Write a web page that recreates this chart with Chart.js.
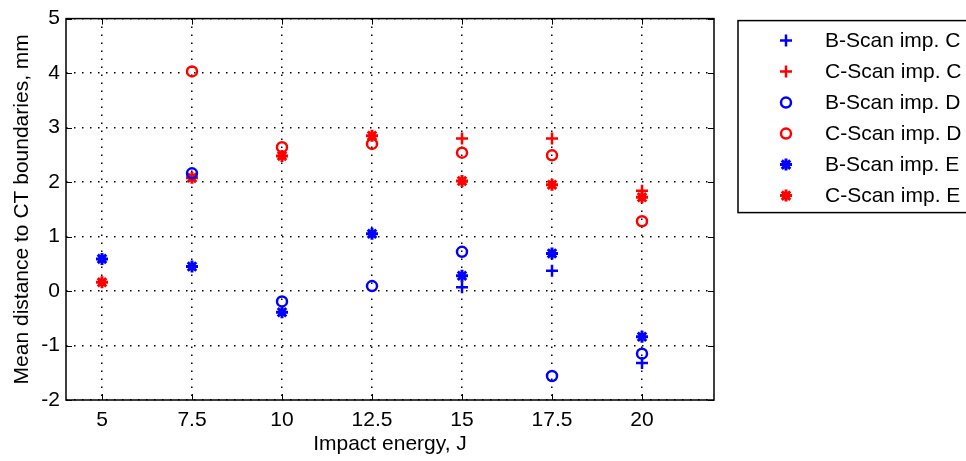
<!DOCTYPE html>
<html>
<head>
<meta charset="utf-8">
<title>Mean distance to CT boundaries</title>
<script src="https://cdn.jsdelivr.net/npm/chart.js@4"></script>
<style>
  html, body { margin: 0; padding: 0; background: #fff; }
  #wrap { width: 966px; height: 461px; }
</style>
</head>
<body>
<div id="wrap"><canvas id="chart" width="966" height="461"></canvas></div>
<script>
// impact energies (J) and tick values
const energies = [5, 7.5, 10, 12.5, 15, 17.5, 20];
const xTicks = [5, 7.5, 10, 12.5, 15, 17.5, 20];
const yTicks = [-2, -1, 0, 1, 2, 3, 4, 5];

// mean distance to CT boundaries, mm (null = not measured)
const bScanC = [null, null, null, null, 0.07, 0.37, -1.32];
const cScanC = [null, null, null, null, 2.80, 2.80, 1.84];
const bScanD = [null, 2.16, -0.19, 0.09, 0.72, -1.56, -1.15];
const cScanD = [null, 4.03, 2.64, 2.70, 2.54, 2.49, 1.28];
const bScanE = [0.59, 0.45, -0.39, 1.05, 0.28, 0.69, -0.84];
const cScanE = [0.16, 2.08, 2.48, 2.85, 2.02, 1.95, 1.72];

const BLUE = '#0000ff';
const RED = '#ff0000';
const FONT = '"Liberation Sans", Arial, sans-serif';

function pts(vals) {
  return energies.map((x, i) => ({ x: x, y: vals[i] })).filter(p => p.y !== null);
}

function series(label, vals, color, style, radius, width) {
  return {
    label: label,
    data: pts(vals),
    showLine: false,
    pointStyle: style,
    pointRadius: radius,
    pointHoverRadius: radius,
    pointBorderWidth: width,
    pointBorderColor: color,
    pointBackgroundColor: style === 'circle' ? 'rgba(0,0,0,0)' : color,
    borderColor: color,
    backgroundColor: color
  };
}

const datasets = [
  series('B-Scan imp. C', bScanC, BLUE, 'cross', 6, 2.5),
  series('C-Scan imp. C', cScanC, RED, 'cross', 6, 2.5),
  series('B-Scan imp. D', bScanD, BLUE, 'circle', 5, 2.5),
  series('C-Scan imp. D', cScanD, RED, 'circle', 5, 2.5),
  series('B-Scan imp. E', bScanE, BLUE, 'star', 6, 3),
  series('C-Scan imp. E', cScanE, RED, 'star', 6, 3)
];

// box round the axes plus inward tick marks on all four sides
const axesBox = {
  id: 'axesBox',
  afterDatasetsDraw(chart) {
    const { ctx, chartArea: a, scales } = chart;
    ctx.save();
    ctx.strokeStyle = '#000';
    ctx.lineWidth = 1;
    ctx.beginPath();
    xTicks.forEach(v => {
      const px = Math.round(scales.x.getPixelForValue(v)) + 0.5;
      ctx.moveTo(px, a.bottom); ctx.lineTo(px, a.bottom - 6);
      ctx.moveTo(px, a.top); ctx.lineTo(px, a.top + 6);
    });
    yTicks.forEach(v => {
      const py = Math.round(scales.y.getPixelForValue(v)) + 0.5;
      ctx.moveTo(a.left, py); ctx.lineTo(a.left + 6, py);
      ctx.moveTo(a.right, py); ctx.lineTo(a.right - 6, py);
    });
    ctx.stroke();
    ctx.lineWidth = 1.5;
    ctx.strokeRect(a.left, a.top, a.right - a.left, a.bottom - a.top);
    ctx.restore();
  }
};

// framed legend to the right of the axes
const boxLegend = {
  id: 'boxLegend',
  afterDraw(chart) {
    const { ctx, chartArea: a } = chart;
    const left = a.right + 24, top = a.top + 2, rowH = 31;
    const rows = chart.data.datasets;
    ctx.save();
    ctx.fillStyle = '#fff';
    ctx.fillRect(left, top, 260, 192);
    ctx.strokeStyle = '#000';
    ctx.lineWidth = 1.5;
    ctx.strokeRect(left, top, 260, 192);
    ctx.font = '21px ' + FONT;
    ctx.textBaseline = 'middle';
    rows.forEach((ds, i) => {
      const cy = top + 20 + i * rowH;
      ctx.strokeStyle = ds.pointBorderColor;
      ctx.fillStyle = ds.pointBackgroundColor;
      ctx.lineWidth = ds.pointBorderWidth;
      Chart.helpers.drawPoint(ctx, { pointStyle: ds.pointStyle, radius: ds.pointRadius, rotation: 0, borderWidth: ds.pointBorderWidth }, left + 48, cy);
      ctx.fillStyle = '#000';
      ctx.fillText(ds.label, left + 87, cy + 1);
    });
    ctx.restore();
  }
};

const gridOpts = {
  color: '#000',
  lineWidth: 1.5,
  drawTicks: false
};

new Chart(document.getElementById('chart'), {
  type: 'scatter',
  data: { datasets: datasets },
  plugins: [axesBox, boxLegend],
  options: {
    responsive: false,
    animation: false,
    layout: { padding: { top: 17, right: 252, left: 0, bottom: 0 } },
    plugins: { legend: { display: false }, tooltip: { enabled: false } },
    scales: {
      x: {
        type: 'linear',
        min: 4,
        max: 22,
        afterBuildTicks: s => { s.ticks = xTicks.map(v => ({ value: v })); },
        afterFit: s => { s.height = 61; },
        border: { display: false, dash: [1.5, 6.5] },
        grid: gridOpts,
        ticks: {
          color: '#000',
          padding: 8,
          font: { family: FONT, size: 21 },
          callback: v => String(v)
        },
        title: {
          display: true,
          text: 'Impact energy, J',
          color: '#000',
          font: { family: FONT, size: 21 },
          padding: { top: 0, bottom: 4 }
        }
      },
      y: {
        min: -2,
        max: 5,
        afterBuildTicks: s => { s.ticks = yTicks.map(v => ({ value: v })); },
        afterFit: s => { s.width = 66; },
        border: { display: false, dash: [1.5, 6.5] },
        grid: gridOpts,
        ticks: {
          color: '#000',
          padding: 6,
          font: { family: FONT, size: 21 },
          callback: v => String(v)
        },
        title: {
          display: true,
          text: 'Mean distance to CT boundaries, mm',
          color: '#000',
          font: { family: FONT, size: 21 },
          padding: { top: 10, bottom: 0 }
        }
      }
    }
  }
});
</script>
</body>
</html>
